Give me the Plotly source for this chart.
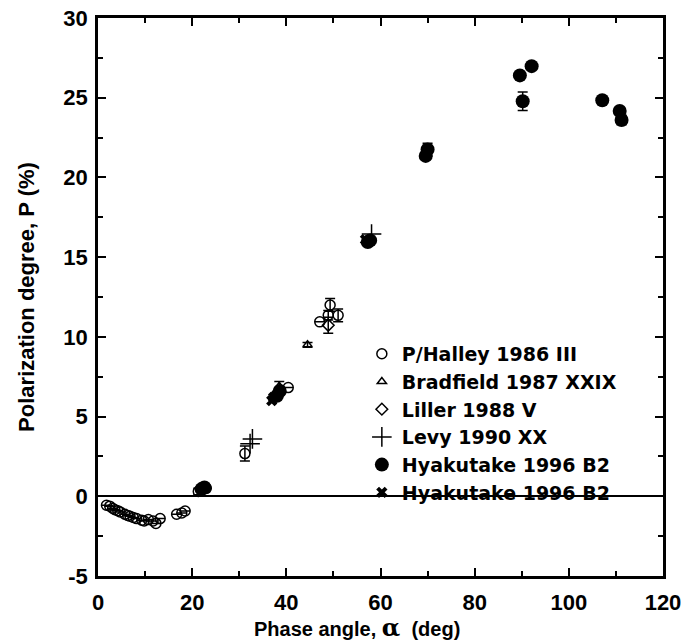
import plotly.graph_objects as go

# P/Halley 1986 III (open circles)
halley_x = [1.8, 2.5, 3.1, 3.6, 4.2, 4.7, 5.7, 6.3, 6.8, 7.5, 8.2, 9.3, 9.8, 10.7, 11.7, 12.3, 13.2,
            16.7, 17.8, 18.5, 21.3, 23.0, 31.2, 40.4, 47.1, 48.9, 49.3, 51.0]
halley_y = [-0.56, -0.62, -0.75, -0.84, -0.9, -0.98, -1.13, -1.2, -1.25, -1.33, -1.4, -1.5, -1.55, -1.46,
            -1.55, -1.7, -1.4, -1.13, -1.05, -0.92, 0.3, 0.5, 2.68, 6.82, 10.94, 11.35, 12.0, 11.35]
halley_err = [0, 0, 0, 0, 0, 0, 0, 0, 0, 0, 0, 0, 0, 0, 0, 0, 0,
              0, 0, 0, 0.2, 0, 0.47, 0, 0, 0.3, 0.4, 0.4]

# Bradfield 1987 XXIX (open triangles)
bradfield_x = [38.5, 44.5]
bradfield_y = [6.9, 9.5]
bradfield_err = [0.3, 0.15]

# Liller 1988 V (open diamonds)
liller_x = [48.9]
liller_y = [10.73]
liller_err = [0.5]

# Levy 1990 XX (plus)
levy_x = [32.3, 32.8, 58.1]
levy_y = [3.3, 3.6, 16.45]

# Hyakutake 1996 B2 (filled circles)
hyak_x = [22.0, 22.6, 38.0, 38.6, 57.3, 57.8, 69.6, 70.0, 89.6, 92.1, 90.2, 107.1, 110.8, 111.2]
hyak_y = [0.45, 0.55, 6.3, 6.6, 15.95, 16.05, 21.35, 21.75, 26.4, 26.98, 24.78, 24.84, 24.17, 23.6]
hyak_err = [0, 0, 0, 0, 0, 0, 0, 0.4, 0, 0, 0.58, 0, 0, 0.3]

# Hyakutake 1996 B2 (filled x)
hyakx_x = [36.9, 37.3, 56.8]
hyakx_y = [6.0, 6.2, 16.1]

# tick labels
x_ticks = [0, 20, 40, 60, 80, 100, 120]
x_ticklabels = ["0", "20", "40", "60", "80", "100", "120"]
y_ticks = [-5, 0, 5, 10, 15, 20, 25, 30]
y_ticklabels = ["-5", "0", "5", "10", "15", "20", "25", "30"]

FONT = "Liberation Sans, Arial, sans-serif"
LFONT = "DejaVu Sans, sans-serif"

fig = go.Figure()

def err(a):
    return dict(type="data", array=a, visible=True, color="black", thickness=1.5, width=5)

fig.add_trace(go.Scatter(x=halley_x, y=halley_y, mode="markers", name="P/Halley 1986 III",
                         error_y=err(halley_err),
                         marker=dict(symbol="circle-open", size=10, color="black", line=dict(width=1.5, color="black"))))
fig.add_trace(go.Scatter(x=bradfield_x, y=bradfield_y, mode="markers", name="Bradfield 1987 XXIX",
                         error_y=err(bradfield_err),
                         marker=dict(symbol="triangle-up-open", size=8, color="black", line=dict(width=1.5, color="black"))))
fig.add_trace(go.Scatter(x=liller_x, y=liller_y, mode="markers", name="Liller 1988 V",
                         error_y=err(liller_err),
                         marker=dict(symbol="diamond-open", size=9, color="black", line=dict(width=1.5, color="black"))))
fig.add_trace(go.Scatter(x=levy_x, y=levy_y, mode="markers", name="Levy 1990 XX",
                         marker=dict(symbol="cross-thin", size=14, color="black", line=dict(width=1.5, color="black"))))
fig.add_trace(go.Scatter(x=hyak_x, y=hyak_y, mode="markers", name="Hyakutake 1996 B2",
                         error_y=err(hyak_err),
                         marker=dict(symbol="circle", size=14, color="black")))
fig.add_trace(go.Scatter(x=hyakx_x, y=hyakx_y, mode="markers", name="Hyakutake 1996 B2",
                         marker=dict(symbol="x", size=10, color="black")))

axis_common = dict(
    showline=True, linecolor="black", linewidth=2.5, mirror="ticks",
    ticks="inside", ticklen=8, tickwidth=2, tickcolor="black",
    showgrid=False, automargin=False,
    tickfont=dict(family=FONT, size=22, color="black", weight="bold"),
)

fig.update_xaxes(range=[0, 120], tickmode="array", tickvals=x_ticks, ticktext=x_ticklabels,
                 minor=dict(ticks="inside", dtick=10, ticklen=5, tickwidth=2, tickcolor="black"),
                 zeroline=False, ticklabelstandoff=5,
                 **axis_common)
fig.update_yaxes(range=[-5, 30], tickmode="array", tickvals=y_ticks, ticktext=y_ticklabels,
                 minor=dict(ticks="inside", dtick=2.5, ticklen=5, tickwidth=2, tickcolor="black"),
                 zeroline=True, zerolinecolor="black", zerolinewidth=1.5, ticklabelstandoff=3,
                 title=dict(text="Polarization degree, P (%)",
                            font=dict(family=FONT, size=22, color="black", weight="bold"), standoff=23),
                 **axis_common)

fig.add_annotation(
    text="Phase angle, <span style='font-family:DejaVu Serif;font-size:24px'>α</span>  (deg)",
    xref="paper", yref="paper", x=0.458, y=-0.093, xanchor="center", yanchor="middle",
    showarrow=False, font=dict(family=FONT, size=20, color="black", weight="bold"),
)

fig.update_layout(
    width=696, height=643,
    margin=dict(l=98, r=33, t=18, b=67, autoexpand=False),
    plot_bgcolor="white", paper_bgcolor="white",
    showlegend=True,
    legend=dict(x=0.467, y=0.432, xanchor="left", yanchor="top",
                bgcolor="rgba(0,0,0,0)", borderwidth=0,
                font=dict(family=LFONT, size=19, color="black", weight="bold"),
                itemwidth=30, tracegroupgap=0),
)

# remove the default page margin so the figure sits at the window's corner
fig.write_html("out.html", config={"displayModeBar": False},
               post_script="document.body.style.margin='0';")
